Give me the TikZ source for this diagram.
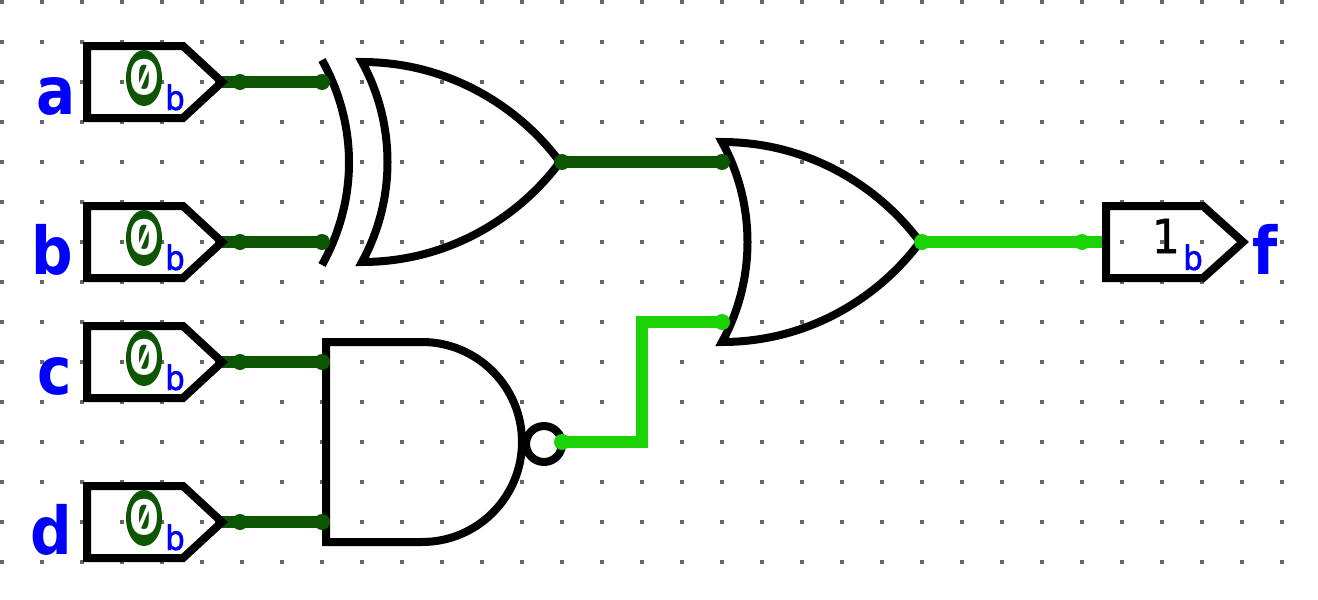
\documentclass[tikz,border=0pt]{standalone}
\usepackage{fontspec}
\setmainfont{DejaVu Sans}
\newfontfamily\pinFont[FakeBold=0.8]{DejaVu Sans Mono}
\newfontfamily\zeroFont[RawFeature=+zero]{Fira Sans}
\newfontfamily\nameFont[FakeStretch=0.88]{DejaVu Sans Bold}
\definecolor{lowColor}{HTML}{0B5503}
\definecolor{highColor}{HTML}{1BD205}
\definecolor{labelColor}{rgb}{0,0,1}
\definecolor{gridColor}{HTML}{666666}

\begin{document}
\begin{tikzpicture}[x=1pt,y=-1pt]

          \tikzstyle{normalEdge} = [line width=8pt, black, line join=miter];
          \tikzstyle{lowEdge} = [line width=12pt, lowColor, line join=miter];
          \tikzstyle{highEdge} = [line width=12pt, highColor, line join=miter];
          \tikzstyle{lowDot} = [circle, fill=lowColor, minimum size=16pt, inner sep=0pt];
          \tikzstyle{highDot} = [circle, fill=highColor, minimum size=16pt, inner sep=0pt];
          \tikzstyle{nameNode} = [labelColor, font=\nameFont\fontsize{66}{66}\selectfont, inner sep=0pt];
          \tikzstyle{radixNode} = [labelColor, font=\pinFont\fontsize{34}{34}\selectfont, inner sep=0pt];
          \tikzstyle{valueNode} = [font=\zeroFont\bfseries\fontsize{51}{51}\selectfont, inner sep=0pt];

          \useasboundingbox (0,0) rectangle (1318,600);

          % grid
          \foreach \i in {0,...,32}
            \foreach \j in {0,...,14}
              \fill[gridColor] (2+40*\i-2,2+40*\j-2) rectangle ++(4,4);

          % gates
          \draw[normalEdge] (322,60) .. controls (358,125) and (358,200) .. (322,265);
          \draw[normalEdge] (362,62) .. controls (450,62) and (520,108) .. (560,162)
            .. controls (520,216) and (450,262) .. (362,262)
            .. controls (396,200) and (396,124) .. (362,62) -- cycle;
          \draw[normalEdge] (722,142) .. controls (810,142) and (880,188) .. (920,242)
            .. controls (880,296) and (810,342) .. (722,342)
            .. controls (756,280) and (756,204) .. (722,142) -- cycle;
          \draw[normalEdge] (326,342) -- (422,342) arc[start angle=90, end angle=-90, radius=100pt] -- (326,542) -- cycle;
          \draw[normalEdge] (544,444) circle (18pt);

          % wires
          \node[lowDot] (a1) at (240,82) {};
          \node[lowDot] (a2) at (322,82) {};
          \node[lowDot] (b1) at (240,242) {};
          \node[lowDot] (b2) at (322,242) {};
          \node[lowDot] (c1) at (240,362) {};
          \node[lowDot] (c2) at (322,362) {};
          \node[lowDot] (d1) at (240,522) {};
          \node[lowDot] (d2) at (322,522) {};
          \node[lowDot] (x1) at (562,162) {};
          \node[lowDot] (x2) at (722,162) {};
          \node[highDot] (n1) at (562,442) {};
          \node[highDot] (n2) at (722,322) {};
          \node[highDot] (o1) at (922,242) {};
          \node[highDot] (o2) at (1082,242) {};
          \coordinate (n3) at (642,442);
          \coordinate (n4) at (642,322);
          \coordinate (fIn) at (1106,242);
          \coordinate (aOut) at (215,82);
          \coordinate (bOut) at (215,242);
          \coordinate (cOut) at (215,362);
          \coordinate (dOut) at (215,522);

          \draw[lowEdge] (aOut) -- (a2.center);
          \draw[lowEdge] (bOut) -- (b2.center);
          \draw[lowEdge] (cOut) -- (c2.center);
          \draw[lowEdge] (dOut) -- (d2.center);
          \draw[lowEdge] (x1.center) -- (x2.center);
          \draw[highEdge] (n1.center) -- (n3) -- (n4) -- (n2.center);
          \draw[highEdge] (o1.center) -- (fIn);

          % input pins
          \foreach \name/\y in {a/82,b/242,c/362,d/522} {
            \draw[normalEdge] (87,\y-36) -- (183,\y-36) -- (222,\y) -- (183,\y+36) -- (87,\y+36) -- cycle;
            \fill[lowColor] (144,\y-4) ellipse (18pt and 28pt);
            \node[valueNode, white] (val\name) at (144,\y-5) {0};
            \node[radixNode, anchor=base] (rad\name) at (175,\y+28) {b};
          }

          % output pin
          \draw[normalEdge] (1106,206) -- (1203,206) -- (1243,242) -- (1203,278) -- (1106,278) -- cycle;
          \node[font=\pinFont\fontsize{47}{47}\selectfont, inner sep=0pt] (valf) at (1165,236) {1};
          \node[radixNode, anchor=base] (radf) at (1193,270) {b};

          % names
          \node[nameNode, anchor=base] (a) at (56,114) {a};
          \node[nameNode, anchor=base] (b) at (52,274) {b};
          \node[nameNode, anchor=base] (c) at (55,394) {c};
          \node[nameNode, anchor=base] (d) at (51,554) {d};
          \node[nameNode, anchor=base] (f) at (1265,274) {f};
        \end{tikzpicture}
\end{document}
